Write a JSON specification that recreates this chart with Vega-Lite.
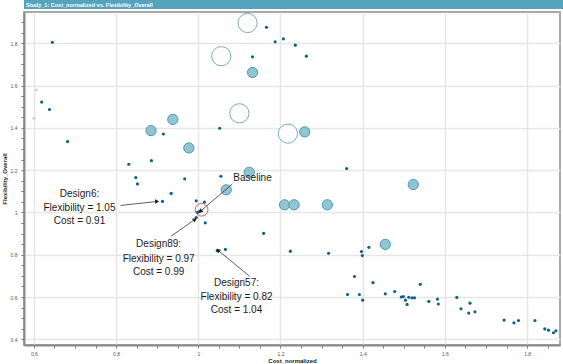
{
  "$schema": "https://vega.github.io/schema/vega-lite/v6.json",
  "padding": 0,
  "background": "white",
  "config": {"font": "Liberation Sans", "concat": {"spacing": 1}},
  "datasets": {
    "dots": [
      {"cost": 0.645, "flex": 1.805}, {"cost": 0.619, "flex": 1.522}, {"cost": 0.638, "flex": 1.487}, {"cost": 0.682, "flex": 1.335},
      {"cost": 1.166, "flex": 1.876}, {"cost": 1.187, "flex": 1.807}, {"cost": 1.207, "flex": 1.821}, {"cost": 1.236, "flex": 1.791},
      {"cost": 1.263, "flex": 1.739}, {"cost": 1.132, "flex": 1.736}, {"cost": 1.052, "flex": 1.398}, {"cost": 0.915, "flex": 1.371},
      {"cost": 1.361, "flex": 1.208}, {"cost": 0.831, "flex": 1.228}, {"cost": 0.886, "flex": 1.245}, {"cost": 0.848, "flex": 1.165},
      {"cost": 0.967, "flex": 1.159}, {"cost": 1.055, "flex": 1.171}, {"cost": 0.852, "flex": 1.135}, {"cost": 0.934, "flex": 1.09},
      {"cost": 0.913, "flex": 1.052}, {"cost": 0.995, "flex": 1.055}, {"cost": 1.015, "flex": 1.049}, {"cost": 0.998, "flex": 1.0},
      {"cost": 1.003, "flex": 1.005}, {"cost": 0.995, "flex": 0.976}, {"cost": 1.017, "flex": 0.951}, {"cost": 1.159, "flex": 0.901},
      {"cost": 1.046, "flex": 0.819}, {"cost": 1.066, "flex": 0.825}, {"cost": 1.224, "flex": 0.817}, {"cost": 1.317, "flex": 0.807},
      {"cost": 1.397, "flex": 0.815}, {"cost": 1.399, "flex": 0.796}, {"cost": 1.415, "flex": 0.835}, {"cost": 1.38, "flex": 0.697},
      {"cost": 1.425, "flex": 0.668}, {"cost": 1.363, "flex": 0.612}, {"cost": 1.392, "flex": 0.612}, {"cost": 1.4, "flex": 0.585},
      {"cost": 1.455, "flex": 0.615}, {"cost": 1.478, "flex": 0.626}, {"cost": 1.494, "flex": 0.6}, {"cost": 1.499, "flex": 0.602},
      {"cost": 1.504, "flex": 0.585}, {"cost": 1.508, "flex": 0.565}, {"cost": 1.512, "flex": 0.599}, {"cost": 1.52, "flex": 0.596},
      {"cost": 1.526, "flex": 0.596}, {"cost": 1.54, "flex": 0.66}, {"cost": 1.561, "flex": 0.579}, {"cost": 1.582, "flex": 0.59},
      {"cost": 1.584, "flex": 0.567}, {"cost": 1.629, "flex": 0.598}, {"cost": 1.639, "flex": 0.544}, {"cost": 1.661, "flex": 0.571},
      {"cost": 1.658, "flex": 0.524}, {"cost": 1.673, "flex": 0.53}, {"cost": 1.744, "flex": 0.491}, {"cost": 1.768, "flex": 0.478},
      {"cost": 1.779, "flex": 0.489}, {"cost": 1.819, "flex": 0.489}, {"cost": 1.843, "flex": 0.449}, {"cost": 1.852, "flex": 0.443},
      {"cost": 1.864, "flex": 0.431}, {"cost": 1.87, "flex": 0.44}
    ],
    "grey": [{"cost": 0.606, "flex": 1.579}, {"cost": 0.6, "flex": 1.445}],
    "filled": [
      {"cost": 0.885, "flex": 1.387}, {"cost": 0.938, "flex": 1.44}, {"cost": 0.977, "flex": 1.305}, {"cost": 1.132, "flex": 1.662},
      {"cost": 1.124, "flex": 1.19}, {"cost": 1.068, "flex": 1.107}, {"cost": 1.259, "flex": 1.381}, {"cost": 1.523, "flex": 1.132},
      {"cost": 1.21, "flex": 1.036}, {"cost": 1.233, "flex": 1.036}, {"cost": 1.314, "flex": 1.036}, {"cost": 1.455, "flex": 0.849}
    ],
    "open": [
      {"cost": 1.12, "flex": 1.896}, {"cost": 1.056, "flex": 1.739}, {"cost": 1.1, "flex": 1.469}, {"cost": 1.218, "flex": 1.373}
    ],
    "baseline": [{"cost": 1.008, "flex": 1.013}],
    "labels": [
      {"cost": 1.132, "flex": 1.165, "text": "Baseline"},
      {"cost": 0.711, "flex": 1.085, "text": "Design6:"},
      {"cost": 0.711, "flex": 1.022, "text": "Flexibility = 1.05"},
      {"cost": 0.711, "flex": 0.958, "text": "Cost = 0.91"},
      {"cost": 0.9035, "flex": 0.849, "text": "Design89:"},
      {"cost": 0.9035, "flex": 0.782, "text": "Flexibility = 0.97"},
      {"cost": 0.9035, "flex": 0.718, "text": "Cost = 0.99"},
      {"cost": 1.093, "flex": 0.667, "text": "Design57:"},
      {"cost": 1.093, "flex": 0.6, "text": "Flexibility = 0.82"},
      {"cost": 1.093, "flex": 0.539, "text": "Cost = 1.04"}
    ],
    "arrows": [
      {"name": "Design6", "cost": 0.811, "flex": 1.033, "cost2": 0.9, "flex2": 1.052},
      {"name": "Design89", "cost": 0.934, "flex": 0.888, "cost2": 0.992, "flex2": 0.967},
      {"name": "Design57", "cost": 1.125, "flex": 0.698, "cost2": 1.048, "flex2": 0.821},
      {"name": "Baseline", "cost": 1.083, "flex": 1.135, "cost2": 1.005, "flex2": 1.005}
    ]
  },
  "vconcat": [
    {
      "width": 563,
      "height": 9,
      "view": {"fill": "#55a3bc", "stroke": null},
      "data": {"values": [{"title": "Study_1: Cost_normalized vs. Flexibility_Overall"}]},
      "mark": {"type": "text", "align": "left", "baseline": "middle", "dx": 2, "fontSize": 5.5, "fontWeight": "bold", "color": "white"},
      "encoding": {
        "text": {"field": "title"},
        "x": {"datum": 0, "type": "quantitative", "scale": {"domain": [0, 1]}, "axis": null}
      }
    },
    {
      "width": 536,
      "height": 333,
      "view": {"stroke": "#a8a8a8", "strokeWidth": 2},
      "encoding": {
        "x": {
          "field": "cost", "type": "quantitative",
          "scale": {"domain": [0.576, 1.88], "nice": false, "zero": false},
          "axis": {
            "title": "Cost_normalized",
            "values": [0.6, 0.65, 0.7, 0.75, 0.8, 0.85, 0.9, 0.95, 1, 1.05, 1.1, 1.15, 1.2, 1.25, 1.3, 1.35, 1.4, 1.45, 1.5, 1.55, 1.6, 1.65, 1.7, 1.75, 1.8, 1.85],
            "grid": true, "gridColor": "#e6e6e6", "gridWidth": 1.5,
            "gridOpacity": {"condition": {"test": "abs(datum.value*5 - round(datum.value*5)) < 0.001", "value": 1}, "value": 0},
            "labelExpr": "abs(datum.value*5 - round(datum.value*5)) < 0.001 ? format(datum.value, '~g') : ''",
            "labelOverlap": false, "labelFlush": false,
            "labelFontSize": 5, "labelColor": "#555", "labelPadding": 3,
            "tickSize": 3, "tickColor": "#777",
            "domainColor": "#8a8a8a", "domainWidth": 2,
            "titleFontSize": 6, "titleFontWeight": "bold", "titleColor": "#222", "titlePadding": 1
          }
        },
        "y": {
          "field": "flex", "type": "quantitative",
          "scale": {"domain": [0.373, 1.948], "nice": false, "zero": false},
          "axis": {
            "title": "Flexibility_Overall",
            "values": [0.4, 0.45, 0.5, 0.55, 0.6, 0.65, 0.7, 0.75, 0.8, 0.85, 0.9, 0.95, 1, 1.05, 1.1, 1.15, 1.2, 1.25, 1.3, 1.35, 1.4, 1.45, 1.5, 1.55, 1.6, 1.65, 1.7, 1.75, 1.8, 1.85, 1.9],
            "grid": true, "gridColor": "#e6e6e6", "gridWidth": 1.5,
            "gridOpacity": {"condition": {"test": "abs(datum.value*5 - round(datum.value*5)) < 0.001", "value": 1}, "value": 0},
            "labelExpr": "abs(datum.value*5 - round(datum.value*5)) < 0.001 ? format(datum.value, '~g') : ''",
            "labelOverlap": false, "labelFlush": false,
            "labelFontSize": 5, "labelColor": "#555", "labelPadding": 4,
            "tickSize": 3, "tickColor": "#777",
            "domainColor": "#8a8a8a", "domainWidth": 2,
            "minExtent": 15, "maxExtent": 15,
            "titleFontSize": 6, "titleFontWeight": "bold", "titleColor": "#222", "titlePadding": 2
          }
        }
      },
      "layer": [
        {"data": {"name": "grey"}, "mark": {"type": "circle", "size": 10, "color": "#d3d3d3", "opacity": 1}},
        {"data": {"name": "dots"}, "mark": {"type": "circle", "size": 10, "color": "#0e5f85", "opacity": 1}},
        {"data": {"name": "filled"}, "mark": {"type": "circle", "size": 105, "fill": "#7dbccd", "fillOpacity": 0.85, "stroke": "#4f97ad", "strokeWidth": 1}},
        {"data": {"name": "open"}, "mark": {"type": "circle", "size": 370, "fill": "white", "fillOpacity": 1, "stroke": "#7aabbd", "strokeWidth": 1}},
        {"data": {"name": "baseline"}, "mark": {"type": "point", "shape": "circle", "size": 165, "filled": false, "stroke": "#e06464", "strokeWidth": 1, "opacity": 1}},
        {
          "data": {"name": "arrows"},
          "mark": {"type": "rule", "color": "#333", "strokeWidth": 0.8},
          "encoding": {"x2": {"field": "cost2"}, "y2": {"field": "flex2"}}
        },
        {
          "data": {"name": "arrows"}, "transform": [{"filter": "datum.name == 'Design6'"}],
          "mark": {"type": "point", "shape": "triangle-up", "filled": true, "color": "#222", "size": 22, "angle": 84, "opacity": 1},
          "encoding": {"x": {"field": "cost2", "type": "quantitative"}, "y": {"field": "flex2", "type": "quantitative"}}
        },
        {
          "data": {"name": "arrows"}, "transform": [{"filter": "datum.name == 'Design89'"}],
          "mark": {"type": "point", "shape": "triangle-up", "filled": true, "color": "#222", "size": 22, "angle": 55, "opacity": 1},
          "encoding": {"x": {"field": "cost2", "type": "quantitative"}, "y": {"field": "flex2", "type": "quantitative"}}
        },
        {
          "data": {"name": "arrows"}, "transform": [{"filter": "datum.name == 'Design57'"}],
          "mark": {"type": "point", "shape": "triangle-up", "filled": true, "color": "#222", "size": 22, "angle": 310, "opacity": 1},
          "encoding": {"x": {"field": "cost2", "type": "quantitative"}, "y": {"field": "flex2", "type": "quantitative"}}
        },
        {
          "data": {"name": "arrows"}, "transform": [{"filter": "datum.name == 'Baseline'"}],
          "mark": {"type": "point", "shape": "triangle-up", "filled": true, "color": "#222", "size": 22, "angle": 229, "opacity": 1},
          "encoding": {"x": {"field": "cost2", "type": "quantitative"}, "y": {"field": "flex2", "type": "quantitative"}}
        },
        {
          "data": {"name": "labels"},
          "mark": {"type": "text", "fontSize": 10, "color": "#1a1a1a", "align": "center", "baseline": "middle"},
          "encoding": {"text": {"field": "text"}}
        }
      ]
    }
  ]
}
